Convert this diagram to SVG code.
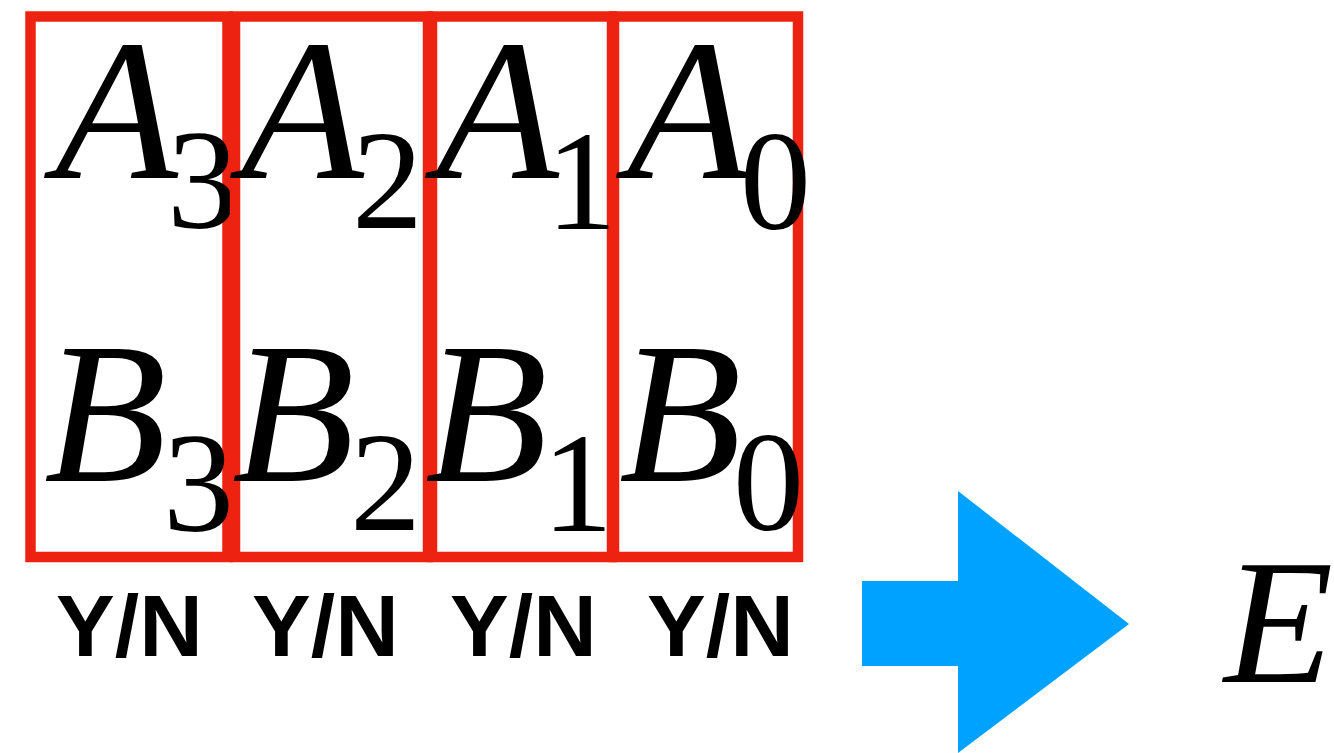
<svg xmlns="http://www.w3.org/2000/svg" width="1334" height="753" viewBox="0 0 1334 753">
<style>
.box{fill:none;stroke:#EE2211;stroke-width:10.5}
.v{font-family:"Liberation Serif","Times New Roman",serif;font-style:italic;font-size:201px;fill:#000}
.s{font-family:"Liberation Serif","Times New Roman",serif;font-size:142px;fill:#000}
.yn{font-family:"Liberation Sans",Arial,sans-serif;font-weight:bold;font-size:88px;fill:#000}
</style>
<rect width="1334" height="753" fill="#fff"/>
<g id="bit3">
<rect class="box" x="30.5" y="16.5" width="197" height="540.5"/>
<text class="v" x="55" y="178">A</text><text class="s" x="167" y="228">3</text>
<text class="v" x="44" y="481">B</text><text class="s" x="163" y="531">3</text>
<text class="yn" x="56" y="656">Y/N</text>
</g>
<g id="bit2">
<rect class="box" x="235" y="16.5" width="193" height="540.5"/>
<text class="v" x="241" y="178">A</text><text class="s" x="352" y="228">2</text>
<text class="v" x="232" y="481">B</text><text class="s" x="350" y="530">2</text>
<text class="yn" x="252" y="656">Y/N</text>
</g>
<g id="bit1">
<rect class="box" x="432" y="16.5" width="180" height="540.5"/>
<text class="v" x="436" y="178">A</text><text class="s" x="546" y="229">1</text>
<text class="v" x="425" y="481">B</text><text class="s" x="542" y="531">1</text>
<text class="yn" x="450" y="656">Y/N</text>
</g>
<g id="bit0">
<rect class="box" x="614" y="16.5" width="184" height="540.5"/>
<text class="v" x="627" y="178">A</text><text class="s" x="740" y="229">0</text>
<text class="v" x="619" y="481">B</text><text class="s" x="733" y="530">0</text>
<text class="yn" x="647" y="656">Y/N</text>
</g>
<g id="connectors">
<polygon points="862,581 958,581 958,491 1129,624 958,753 958,666 862,666" fill="#00A2FF"/>
</g>
<g id="result">
<text class="v" style="font-size:179px" x="1224" y="682">E</text>
</g>
</svg>
